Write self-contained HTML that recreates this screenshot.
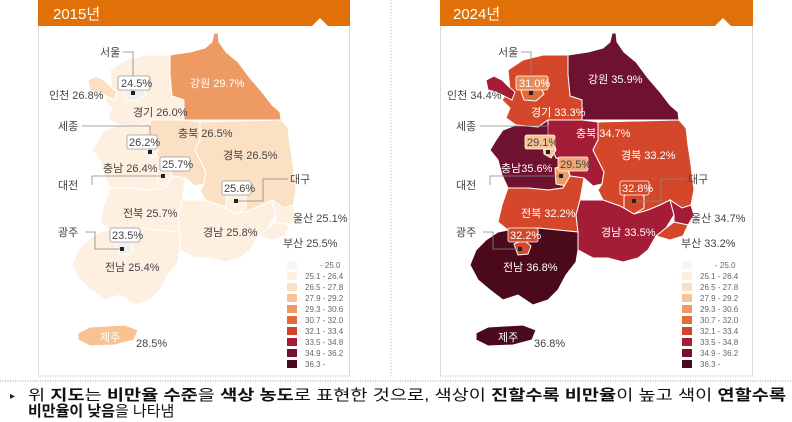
<!DOCTYPE html>
<html><head><meta charset="utf-8"><style>
html,body{margin:0;padding:0;background:#fff;}
svg{display:block;font-family:"Liberation Sans","Noto Sans CJK KR",sans-serif;}
.l{font-size:11px;fill:#444;}
.w{font-size:11px;fill:#fff;}
.lg{font-size:8px;fill:#666;}
.b{font-weight:bold;}
</style></head><body>
<svg width="792" height="422" viewBox="0 0 792 422" xmlns="http://www.w3.org/2000/svg">
<rect width="792" height="422" fill="#fff"/>
<rect x="38.5" y="20" width="311" height="356" fill="#fff" stroke="#dcdcdc"/>
<rect x="440.5" y="20" width="312" height="356" fill="#fff" stroke="#dcdcdc"/>
<rect x="38" y="0" width="312" height="26" fill="#e27009"/>
<rect x="440" y="0" width="313" height="26" fill="#e27009"/>
<polygon points="312,26 320,18 328,26" fill="#fff"/>
<polygon points="715,26 723,18 731,26" fill="#fff"/>
<text x="53" y="19" font-size="15" fill="#fff">2015년</text>
<text x="453" y="19" font-size="15" fill="#fff">2024년</text>
<line x1="391" y1="0" x2="391" y2="378" stroke="#bbb" stroke-dasharray="1,2"/>
<line x1="0" y1="381" x2="792" y2="381" stroke="#999" stroke-dasharray="1,1.5"/>

<g stroke="#fff" stroke-width="1">
<path d="M145,55 L170,55 L190,52 L205,48 L212,42 L214,33 L218,33 L219,42 L226,52 L238,62 L250,78 L262,92 L272,105 L280,112 L281,120 L184,120 L184,100 L172,96 L170,75 Z" fill="#ee9a63"/>
<path d="M110,70 L125,60 L145,55 L170,55 L170,75 L172,96 L184,100 L184,120 L170,122 L150,120 L140,127 L118,125 L108,118 L112,108 L104,100 L112,90 Z" fill="#fdf0e0"/>
<path d="M88,80 L96,76 L104,80 L110,86 L117,92 L114,100 L106,96 L98,92 L90,90 Z" fill="#fce0c3"/>
<path d="M122,88 L132,84 L142,86 L146,94 L138,101 L126,100 Z" fill="#f2f0ee"/>
<path d="M150,120 L184,120 L200,122 L200,140 L195,150 L200,160 L206,172 L204,184 L195,186 L186,178 L172,176 L168,160 L158,158 L150,140 Z" fill="#fce0c3"/>
<path d="M200,122 L281,120 L288,128 L290,145 L293,165 L296,190 L293,205 L284,208 L272,200 L262,205 L250,210 L236,214 L222,206 L205,200 L200,190 L204,184 L206,172 L200,160 L195,150 L200,140 Z" fill="#fce0c3"/>
<path d="M226,196 L236,190 L246,196 L246,208 L236,214 L226,208 Z" fill="#fdf0e0"/>
<path d="M105,130 L118,125 L140,127 L150,120 L150,140 L158,158 L168,160 L172,176 L165,188 L150,190 L130,188 L110,188 L104,175 L100,160 L92,150 L98,140 Z" fill="#fdf0e0"/>
<path d="M145,142 L155,140 L158,150 L153,158 L146,154 Z" fill="#fdf0e0"/>
<path d="M157,168 L168,166 L172,176 L168,186 L158,184 Z" fill="#fdf0e0"/>
<path d="M110,188 L130,188 L150,190 L165,188 L172,176 L186,178 L182,200 L178,215 L180,232 L160,230 L140,228 L110,230 L100,222 L104,205 Z" fill="#fdf0e0"/>
<path d="M182,200 L205,200 L222,206 L236,214 L250,210 L262,205 L272,200 L276,215 L268,228 L258,236 L250,250 L240,258 L225,262 L210,258 L195,258 L180,250 L180,232 L178,215 Z" fill="#fdf0e0"/>
<path d="M272,200 L284,208 L293,205 L296,215 L290,225 L276,222 L276,215 Z" fill="#fdf0e0"/>
<path d="M268,228 L276,222 L290,225 L285,236 L272,240 L258,236 Z" fill="#fdf0e0"/>
<path d="M100,232 L110,230 L140,228 L160,230 L180,232 L180,250 L178,262 L168,275 L160,290 L150,300 L135,305 L120,295 L105,300 L92,290 L80,280 L72,265 L78,250 L88,240 Z" fill="#fdf0e0"/>
<path d="M116,244 L126,240 L133,246 L130,254 L120,255 Z" fill="#f2f0ee"/>
<path d="M78,333 L90,327 L125,325 L138,330 L134,340 L115,345 L90,346 L78,340 Z" fill="#f8c293"/>
</g>
<g fill="none" stroke="#888" stroke-width="0.8">
<polyline points="123,52 133,52 133,92"/>
<polyline points="82,126 150,126 150,150"/>
<polyline points="92,185 92,176 163,176"/>
<polyline points="288,179 263,179 263,201 236,201"/>
<polyline points="85,232 95,232 95,249 122,249"/>
</g>
<g fill="#fff" stroke="#999" stroke-width="0.8">
<rect x="118" y="76" width="32" height="14" rx="2"/>
<rect x="127" y="135" width="30" height="14" rx="2"/>
<rect x="160" y="157" width="30" height="14" rx="2"/>
<rect x="222" y="181" width="29" height="14" rx="2"/>
<rect x="110" y="228" width="30" height="14" rx="2"/>
</g>
<g fill="#222"><rect x="131" y="91" width="4" height="4"/><rect x="148" y="150" width="4" height="4"/><rect x="161" y="174" width="4" height="4"/><rect x="234" y="199" width="4" height="4"/><rect x="120" y="247" width="4" height="4"/></g>
<g class="l">
<text x="100" y="56">서울</text>
<text x="121" y="87">24.5%</text>
<text x="49" y="99">인천 26.8%</text>
<text x="133" y="116">경기 26.0%</text>
<text x="58" y="130">세종</text>
<text x="129" y="146">26.2%</text>
<text x="178" y="137">충북 26.5%</text>
<text x="223" y="159">경북 26.5%</text>
<text x="103" y="172">충남 26.4%</text>
<text x="162" y="168">25.7%</text>
<text x="58" y="189">대전</text>
<text x="290" y="183">대구</text>
<text x="224" y="192">25.6%</text>
<text x="293" y="222">울산 25.1%</text>
<text x="283" y="247">부산 25.5%</text>
<text x="203" y="236">경남 25.8%</text>
<text x="123" y="217">전북 25.7%</text>
<text x="58" y="236">광주</text>
<text x="112" y="239">23.5%</text>
<text x="105" y="271">전남 25.4%</text>
<text x="136" y="347">28.5%</text>
</g>
<text class="w" x="190" y="87">강원 29.7%</text>
<text class="w" x="100" y="341">제주</text>

<g transform="translate(398,0)">
<g stroke="#fff" stroke-width="1">
<path d="M145,55 L170,55 L190,52 L205,48 L212,42 L214,33 L218,33 L219,42 L226,52 L238,62 L250,78 L262,92 L272,105 L280,112 L281,120 L184,120 L184,100 L172,96 L170,75 Z" fill="#6e1230"/>
<path d="M110,70 L125,60 L145,55 L170,55 L170,75 L172,96 L184,100 L184,120 L170,122 L150,120 L140,127 L118,125 L108,118 L112,108 L104,100 L112,90 Z" fill="#d4472a"/>
<path d="M88,80 L96,76 L104,80 L110,86 L117,92 L114,100 L106,96 L98,92 L90,90 Z" fill="#a51c36"/>
<path d="M122,88 L132,84 L142,86 L146,94 L138,101 L126,100 Z" fill="#e06b3a"/>
<path d="M150,120 L184,120 L200,122 L200,140 L195,150 L200,160 L206,172 L204,184 L195,186 L186,178 L172,176 L168,160 L158,158 L150,140 Z" fill="#a51c36"/>
<path d="M200,122 L281,120 L288,128 L290,145 L293,165 L296,190 L293,205 L284,208 L272,200 L262,205 L250,210 L236,214 L222,206 L205,200 L200,190 L204,184 L206,172 L200,160 L195,150 L200,140 Z" fill="#d4472a"/>
<path d="M226,196 L236,190 L246,196 L246,208 L236,214 L226,208 Z" fill="#d4472a"/>
<path d="M105,130 L118,125 L140,127 L150,120 L150,140 L158,158 L168,160 L172,176 L165,188 L150,190 L130,188 L110,188 L104,175 L100,160 L92,150 L98,140 Z" fill="#6e1230"/>
<path d="M145,142 L155,140 L158,150 L153,158 L146,154 Z" fill="#f8c293"/>
<path d="M157,168 L168,166 L172,176 L168,186 L158,184 Z" fill="#ee9a63"/>
<path d="M110,188 L130,188 L150,190 L165,188 L172,176 L186,178 L182,200 L178,215 L180,232 L160,230 L140,228 L110,230 L100,222 L104,205 Z" fill="#d4472a"/>
<path d="M182,200 L205,200 L222,206 L236,214 L250,210 L262,205 L272,200 L276,215 L268,228 L258,236 L250,250 L240,258 L225,262 L210,258 L195,258 L180,250 L180,232 L178,215 Z" fill="#a51c36"/>
<path d="M272,200 L284,208 L293,205 L296,215 L290,225 L276,222 L276,215 Z" fill="#a51c36"/>
<path d="M268,228 L276,222 L290,225 L285,236 L272,240 L258,236 Z" fill="#d4472a"/>
<path d="M100,232 L110,230 L140,228 L160,230 L180,232 L180,250 L178,262 L168,275 L160,290 L150,300 L135,305 L120,295 L105,300 L92,290 L80,280 L72,265 L78,250 L88,240 Z" fill="#4a0a1c"/>
<path d="M116,244 L126,240 L133,246 L130,254 L120,255 Z" fill="#d4472a"/>
<path d="M78,333 L90,327 L125,325 L138,330 L134,340 L115,345 L90,346 L78,340 Z" fill="#4a0a1c"/>
</g>
<g fill="none" stroke="#888" stroke-width="0.8">
<polyline points="123,52 133,52 133,92"/>
<polyline points="82,126 150,126 150,150"/>
<polyline points="92,185 92,176 163,176"/>
<polyline points="288,179 263,179 263,201 236,201"/>
<polyline points="85,232 95,232 95,249 122,249"/>
</g>
<g stroke="#fff" stroke-width="0.8">
<rect x="118" y="76" width="32" height="14" rx="2" fill="#e88a55"/>
<rect x="127" y="135" width="30" height="14" rx="2" fill="#f8c293"/>
<rect x="160" y="157" width="30" height="14" rx="2" fill="#f2a874"/>
<rect x="222" y="181" width="29" height="14" rx="2" fill="#d4472a"/>
<rect x="110" y="228" width="30" height="14" rx="2" fill="#d4472a"/>
</g>
<g fill="#222"><rect x="131" y="91" width="4" height="4"/><rect x="148" y="150" width="4" height="4"/><rect x="161" y="174" width="4" height="4"/><rect x="234" y="199" width="4" height="4"/><rect x="120" y="247" width="4" height="4"/></g>
<g class="l">
<text x="100" y="56">서울</text>
<text x="49" y="99">인천 34.4%</text>
<text x="58" y="130">세종</text>
<text x="129" y="146">29.1%</text>
<text x="162" y="168">29.5%</text>
<text x="58" y="189">대전</text>
<text x="290" y="183">대구</text>
<text x="293" y="222">울산 34.7%</text>
<text x="283" y="247">부산 33.2%</text>
<text x="58" y="236">광주</text>
<text x="136" y="347">36.8%</text>
</g>
<g class="w">
<text x="121" y="87">31.0%</text>
<text x="133" y="116">경기 33.3%</text>
<text x="190" y="83">강원 35.9%</text>
<text x="178" y="137">충북 34.7%</text>
<text x="223" y="159">경북 33.2%</text>
<text x="103" y="172">충남35.6%</text>
<text x="224" y="192">32.8%</text>
<text x="203" y="236">경남 33.5%</text>
<text x="123" y="217">전북 32.2%</text>
<text x="112" y="239">32.2%</text>
<text x="105" y="271">전남 36.8%</text>
<text x="100" y="341">제주</text>
</g>
</g>

<g>
<rect x="287" y="261" width="10" height="8" fill="#fbf5f1"/><text class="lg" x="320" y="268">- 25.0</text>
<rect x="287" y="272" width="10" height="8" fill="#fdf0e0"/><text class="lg" x="305" y="279">25.1 - 26.4</text>
<rect x="287" y="283" width="10" height="8" fill="#fce0c3"/><text class="lg" x="305" y="290">26.5 - 27.8</text>
<rect x="287" y="294" width="10" height="8" fill="#f8c293"/><text class="lg" x="305" y="301">27.9 - 29.2</text>
<rect x="287" y="305" width="10" height="8" fill="#ee9a63"/><text class="lg" x="305" y="312">29.3 - 30.6</text>
<rect x="287" y="316" width="10" height="8" fill="#e06b3a"/><text class="lg" x="305" y="323">30.7 - 32.0</text>
<rect x="287" y="327" width="10" height="8" fill="#d4442a"/><text class="lg" x="305" y="334">32.1 - 33.4</text>
<rect x="287" y="338" width="10" height="8" fill="#a51c36"/><text class="lg" x="305" y="345">33.5 - 34.8</text>
<rect x="287" y="349" width="10" height="8" fill="#74112e"/><text class="lg" x="305" y="356">34.9 - 36.2</text>
<rect x="287" y="360" width="10" height="8" fill="#4a0a1c"/><text class="lg" x="305" y="367">36.3 -</text>
</g>
<g transform="translate(395,0)">
<rect x="287" y="261" width="10" height="8" fill="#fbf5f1"/><text class="lg" x="320" y="268">- 25.0</text>
<rect x="287" y="272" width="10" height="8" fill="#fdf0e0"/><text class="lg" x="305" y="279">25.1 - 26.4</text>
<rect x="287" y="283" width="10" height="8" fill="#fce0c3"/><text class="lg" x="305" y="290">26.5 - 27.8</text>
<rect x="287" y="294" width="10" height="8" fill="#f8c293"/><text class="lg" x="305" y="301">27.9 - 29.2</text>
<rect x="287" y="305" width="10" height="8" fill="#ee9a63"/><text class="lg" x="305" y="312">29.3 - 30.6</text>
<rect x="287" y="316" width="10" height="8" fill="#e06b3a"/><text class="lg" x="305" y="323">30.7 - 32.0</text>
<rect x="287" y="327" width="10" height="8" fill="#d4442a"/><text class="lg" x="305" y="334">32.1 - 33.4</text>
<rect x="287" y="338" width="10" height="8" fill="#a51c36"/><text class="lg" x="305" y="345">33.5 - 34.8</text>
<rect x="287" y="349" width="10" height="8" fill="#74112e"/><text class="lg" x="305" y="356">34.9 - 36.2</text>
<rect x="287" y="360" width="10" height="8" fill="#4a0a1c"/><text class="lg" x="305" y="367">36.3 -</text>
</g>

<text x="10" y="399" font-size="10" fill="#222">▸</text>
<text x="28" y="400" font-size="15" fill="#111" textLength="758" lengthAdjust="spacingAndGlyphs">위 <tspan class="b">지도</tspan>는 <tspan class="b">비만율 수준</tspan>을 <tspan class="b">색상 농도</tspan>로 표현한 것으로, 색상이 <tspan class="b">진할수록 비만율</tspan>이 높고 색이 <tspan class="b">연할수록</tspan></text>
<text x="28" y="416" font-size="15" fill="#111"><tspan class="b">비만율이 낮음</tspan>을 나타냄</text>
</svg>
</body></html>
